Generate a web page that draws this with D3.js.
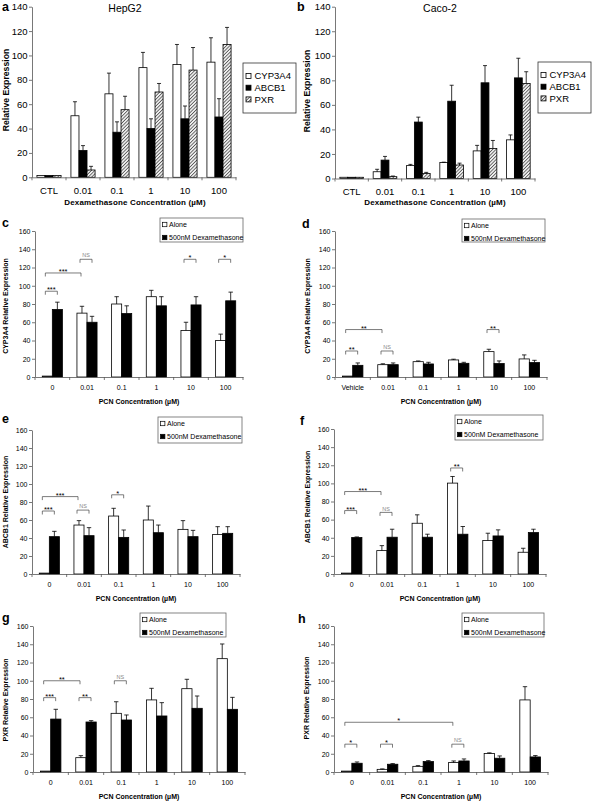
<!DOCTYPE html>
<html><head><meta charset="utf-8">
<script src="https://cdn.jsdelivr.net/npm/d3@7"></script>
<style>
body{margin:0;background:#fff}
text{font-family:"Liberation Sans",Arial,Helvetica,sans-serif}
</style>
</head><body>
<svg id="chart" width="595" height="801"></svg>
<script>
// ---------------- DATA ----------------
const topCats = ["CTL","0.01","0.1","1","10","100"];
const topSeries = ["CYP3A4","ABCB1","PXR"];
const topTicks = [0,20,40,60,80,100,120,140];

// a: HepG2
const hepCYP3A4    = [1.5,50.5,68.5,90,92.5,94.5];
const hepCYP3A4Err = [0,11.5,17,12.5,16.5,20];
const hepABCB1     = [1.5,22,37,40,48,49.5];
const hepABCB1Err  = [0,4,8.5,8,10.5,15];
const hepPXR       = [1.5,6,55.5,70,88,109];
const hepPXRErr    = [0,3,11,7,18.5,14];
// b: Caco-2
const cacoCYP3A4    = [1,5.5,10.5,13,22.5,31.5];
const cacoCYP3A4Err = [0,2,1,0.3,4.5,4];
const cacoABCB1     = [1,15,46,63,78,82];
const cacoABCB1Err  = [0,3,4,13,14,16];
const cacoPXR       = [1,1.5,4,11,24.5,77.5];
const cacoPXRErr    = [0,0.5,1,1.5,6.5,9.5];

const pcnCats  = ["0","0.01","0.1","1","10","100"];
const pcnCatsD = ["Vehicle","0.01","0.1","1","10","100"];
const pcnSeries = ["Alone","500nM Dexamethasone"];
const pcnTicks = [0,20,40,60,80,100,120,140,160];

// c: HepG2 CYP3A4
const cAlone = [1,70,80,88,51,40],        cAloneErr = [0,7.5,8,7,9,7];
const cDex   = [74,60,69.5,78,79,83.5],   cDexErr   = [8,6.5,8.5,10,9,9.5];
// d: Caco-2 CYP3A4
const dAlone = [1,13.5,16.8,18.7,27.8,19.8], dAloneErr = [0,1,0.8,0.8,2.6,4.4];
const dDex   = [12.8,13.5,14.3,15,14.7,15.8], dDexErr  = [2.6,1.9,1.8,1.1,2.9,2.5];
// e: HepG2 ABCB1
const eAlone = [1,54.4,64.4,60,49.6,44],  eAloneErr = [0,4.9,8.6,15.5,9.7,8.6];
const eDex   = [41.5,42.6,40.7,45.9,41.5,45.2], eDexErr = [5.9,8.9,8.2,8.5,7,7.4];
// f: Caco-2 ABCB1
const fAlone = [1,25.8,56,100.3,36.9,24], fAloneErr = [0,5.5,9.3,7.3,8.1,4.4];
const fDex   = [40.2,40.6,40.6,43.9,42,45.7], fDexErr = [0.7,8.8,3.3,8.5,6.7,3.7];
// g: HepG2 PXR
const gAlone = [1,15.7,64.3,79,91.3,124.2], gAloneErr = [0,2.2,12.7,12.7,10.3,16.1];
const gDex   = [58,54.8,57,61.4,69.8,68.7], gDexErr   = [10.7,1.5,5.5,14.6,13.5,13.1];
// h: Caco-2 PXR
const hAlone = [1,2.9,6.2,10.3,20.2,79],  hAloneErr = [0,0.5,0.8,1.8,0.8,14.5];
const hDex   = [9.6,8.5,11.4,12.1,15.1,16.5], hDexErr = [1.4,0.7,1.1,2.2,2.5,1.5];

// significance brackets: [fromGroup, toGroup, level, label]
const cSig = [[0,0,94,"***"],[0,1,114,"***"],[1,1,129,"NS"],[4,4,129,"*"],[5,5,129,"*"]];
const dSig = [[0,0,28.5,"**"],[0,1,52,"**"],[1,1,28.5,"NS"],[4,4,52,"**"]];
const eSig = [[0,0,70,"***"],[0,1,86,"***"],[1,1,71,"NS"],[2,2,88,"*"]];
const fSig = [[0,0,70,"***"],[0,1,91,"***"],[1,1,68,"NS"],[3,3,117,"**"]];
const gSig = [[0,0,81.5,"***"],[0,1,100,"**"],[1,1,81.5,"**"],[2,2,100,"NS"]];
const hSig = [[0,0,30.5,"*"],[0,3,54.5,"*"],[1,1,30.5,"*"],[3,3,30.5,"NS"]];

// ---------------- DRAW ----------------
const svg = d3.select("#chart");
svg.append("rect").attr("width",595).attr("height",801).attr("fill","#fff");
const pat = svg.append("defs").append("pattern").attr("id","hatch")
  .attr("patternUnits","userSpaceOnUse").attr("width",2.4).attr("height",2.4)
  .attr("patternTransform","rotate(45)");
pat.append("rect").attr("width",2.4).attr("height",2.4).attr("fill","#eee");
pat.append("line").attr("x1",0).attr("y1",0).attr("x2",0).attr("y2",2.4)
  .attr("stroke","#222").attr("stroke-width",1.2);

const FONT = '"Liberation Sans",Arial,sans-serif';
const axisColor = "#555";

function drawAxes(g, cfg, x, y, ticks, tickFont, xPad) {
  const ya = g.append("g").attr("transform",`translate(${cfg.x0},0)`)
    .call(d3.axisLeft(y).tickValues(ticks).tickSize(3).tickSizeOuter(0).tickPadding(1.5));
  ya.select(".domain").attr("stroke",axisColor).attr("stroke-width",0.8);
  ya.selectAll(".tick line").attr("stroke",axisColor).attr("stroke-width",0.8);
  ya.selectAll("text").attr("font-size",tickFont).attr("font-family",FONT).attr("fill","#000");
  const xa = g.append("g").attr("transform",`translate(0,${cfg.y0})`)
    .call(d3.axisBottom(x).tickSize(0).tickSizeOuter(0).tickPadding(xPad));
  xa.select(".domain").attr("stroke",axisColor).attr("stroke-width",0.8);
  xa.selectAll("text").attr("font-size",tickFont).attr("font-family",FONT).attr("fill","#000");
  // category boundary ticks
  const bounds = x.domain().map(c=>x(c)).concat([x.range()[1]]);
  xa.selectAll(".bt").data(bounds).join("line").attr("class","bt")
    .attr("x1",d=>d).attr("x2",d=>d).attr("y1",0).attr("y2",3)
    .attr("stroke",axisColor).attr("stroke-width",0.8);
}

function drawBars(g, cats, series, vals, errs, fills, x, y, groupFrac, capHalf) {
  const groupW = x.step()*groupFrac;
  const xs = d3.scaleBand().domain(series).range([0,groupW]);
  const rows = [];
  series.forEach((s,si)=>cats.forEach((c,ci)=>rows.push({s,si,c,v:vals[si][ci],e:errs[si][ci]})));
  const bx = d=> x(d.c) + (x.step()-groupW)/2 + xs(d.s);
  g.selectAll(null).data(rows).join("rect")
    .attr("x",bx).attr("width",xs.bandwidth())
    .attr("y",d=>y(d.v)).attr("height",d=>y(0)-y(d.v))
    .attr("fill",d=>fills[d.si]).attr("stroke","#000").attr("stroke-width",0.8);
  const er = rows.filter(d=>d.e>0);
  const cx = d=> bx(d)+xs.bandwidth()/2;
  g.selectAll(null).data(er).join("path")
    .attr("d",d=>`M${cx(d)},${y(d.v)}V${y(d.v+d.e)}M${cx(d)-capHalf},${y(d.v+d.e)}H${cx(d)+capHalf}`)
    .attr("stroke","#000").attr("stroke-width",0.8).attr("fill","none");
}

function letter(t, x, y) {
  svg.append("text").attr("x",x).attr("y",y).attr("font-size",12.5).attr("font-weight","bold").text(t);
}
function ylabel(t, x, y, size) {
  svg.append("text").attr("transform",`translate(${x},${y}) rotate(-90)`)
    .attr("text-anchor","middle").attr("font-size",size).attr("font-weight","bold").text(t);
}

// ---- top panels ----
const topPanels = [
  {letter:"a", lx:2, ly:10.5, title:"HepG2", tx:125, x0:32, x1:236, y0:177.3, yT:6.7, ylx:8.5, yly:90,
   xtx:135, leg:{x:243,y:63,w:53,h:50},
   vals:[hepCYP3A4,hepABCB1,hepPXR], errs:[hepCYP3A4Err,hepABCB1Err,hepPXRErr]},
  {letter:"b", lx:297, ly:10.5, title:"Caco-2", tx:440, x0:335, x1:535, y0:178.5, yT:6.7, ylx:310, yly:91,
   xtx:435, leg:{x:538,y:62,w:53,h:51},
   vals:[cacoCYP3A4,cacoABCB1,cacoPXR], errs:[cacoCYP3A4Err,cacoABCB1Err,cacoPXRErr]}
];
const topFills = ["#fff","#000","url(#hatch)"];
topPanels.forEach(p=>{
  const g = svg.append("g");
  const x = d3.scaleBand().domain(topCats).range([p.x0,p.x1]);
  const y = d3.scaleLinear().domain([0,140]).range([p.y0,p.yT]);
  drawBars(g, topCats, topSeries, p.vals, p.errs, topFills, x, y, 0.71, 2);
  drawAxes(g, p, x, y, topTicks, 9.5, 10);
  letter(p.letter, p.lx, p.ly);
  svg.append("text").attr("x",p.tx).attr("y",12).attr("text-anchor","middle").attr("font-size",10.5).text(p.title);
  ylabel("Relative Expression", p.ylx, p.yly, 8.7);
  svg.append("text").attr("x",p.xtx).attr("y",204.5).attr("text-anchor","middle")
    .attr("font-size",8).attr("font-weight","bold").attr("letter-spacing",0.15).text("Dexamethasone Concentration (\u00B5M)");
  const L = p.leg;
  svg.append("rect").attr("x",L.x).attr("y",L.y).attr("width",L.w).attr("height",L.h)
    .attr("fill","#fff").attr("stroke","#333").attr("stroke-width",0.8);
  topSeries.forEach((s,i)=>{
    const cy = L.y + 13 + i*11.7;
    svg.append("rect").attr("x",L.x+3).attr("y",cy-2.5).attr("width",5).attr("height",5)
      .attr("fill",topFills[i]).attr("stroke","#000").attr("stroke-width",0.8);
    svg.append("text").attr("x",L.x+11.5).attr("y",cy+3.4).attr("font-size",9.5).text(s);
  });
});

// ---- bottom panels ----
const botPanels = [
  {letter:"c", lx:2, ly:227, x0:35, x1:243, y0:377, yT:231, ylab:"CYP3A4 Relative Expression", ylx:8, yly:306,
   leg:{x:160,y:218,w:83,h:24}, cats:pcnCats, vals:[cAlone,cDex], errs:[cAloneErr,cDexErr], sig:cSig},
  {letter:"d", lx:302, ly:228, x0:335, x1:547, y0:377, yT:231, ylab:"CYP3A4 Relative Expression", ylx:310, yly:306,
   leg:{x:462,y:219,w:83,h:23}, cats:pcnCatsD, vals:[dAlone,dDex], errs:[dAloneErr,dDexErr], sig:dSig},
  {letter:"e", lx:2, ly:423, x0:32, x1:240, y0:574, yT:430, ylab:"ABCB1 Relative Expression", ylx:7.5, yly:502,
   leg:{x:158,y:417,w:84,h:26}, cats:pcnCats, vals:[eAlone,eDex], errs:[eAloneErr,eDexErr], sig:eSig},
  {letter:"f", lx:300, ly:425, x0:334, x1:546, y0:574, yT:429, ylab:"ABCB1 Relative Expression", ylx:310, yly:497,
   leg:{x:455,y:415,w:88,h:25}, cats:pcnCats, vals:[fAlone,fDex], errs:[fAloneErr,fDexErr], sig:fSig},
  {letter:"g", lx:2, ly:622, x0:33, x1:245, y0:772, yT:626, ylab:"PXR Relative Expression", ylx:7.5, yly:700,
   leg:{x:140,y:613,w:86,h:24}, cats:pcnCats, vals:[gAlone,gDex], errs:[gAloneErr,gDexErr], sig:gSig},
  {letter:"h", lx:298, ly:623, x0:334, x1:548, y0:772, yT:626, ylab:"PXR Relative Expression", ylx:309, yly:698,
   leg:{x:462,y:613,w:82,h:24}, cats:pcnCats, vals:[hAlone,hDex], errs:[hAloneErr,hDexErr], sig:hSig}
];
const botFills = ["#fff","#000"];
botPanels.forEach(p=>{
  const g = svg.append("g");
  const x = d3.scaleBand().domain(p.cats).range([p.x0,p.x1]);
  const y = d3.scaleLinear().domain([0,160]).range([p.y0,p.yT]);
  drawBars(g, p.cats, pcnSeries, p.vals, p.errs, botFills, x, y, 0.58, 2.2);
  drawAxes(g, p, x, y, pcnTicks, 7, 8);
  letter(p.letter, p.lx, p.ly);
  ylabel(p.ylab, p.ylx, p.yly, 7);
  svg.append("text").attr("x",(p.x0+p.x1)/2).attr("y",p.y0+26.5).attr("text-anchor","middle")
    .attr("font-size",7).attr("font-weight","bold").text("PCN Concentration (\u00B5M)");
  // brackets
  const xc = i => x(p.cats[i]) + x.step()/2;
  p.sig.forEach(([i,j,lev,lab])=>{
    const xa = xc(i)-7, xb = (i===j) ? xc(i)+5 : xc(j)-6, yy = y(lev);
    g.append("path").attr("d",`M${xa},${yy+3.5}V${yy}H${xb}V${yy+3.5}`)
      .attr("fill","none").attr("stroke","#444").attr("stroke-width",0.7);
    const ns = lab==="NS";
    g.append("text").attr("x",(xa+xb)/2).attr("y", ns ? yy-1.8 : yy+1)
      .attr("text-anchor","middle").attr("font-size", ns?5.5:7.5)
      .attr("fill", ns?"#888":"#000").text(lab);
  });
  // legend
  const L = p.leg;
  svg.append("rect").attr("x",L.x).attr("y",L.y).attr("width",L.w).attr("height",L.h)
    .attr("fill","#fff").attr("stroke","#666").attr("stroke-width",0.8);
  pcnSeries.forEach((s,i)=>{
    const cy = L.y + 6.5 + i*13;
    svg.append("rect").attr("x",L.x+2.5).attr("y",cy-2.2).attr("width",4.4).attr("height",4.4)
      .attr("fill",botFills[i]).attr("stroke","#000").attr("stroke-width",0.7);
    svg.append("text").attr("x",L.x+9).attr("y",cy+2.5).attr("font-size",7).text(s);
  });
});
</script>
</body></html>
